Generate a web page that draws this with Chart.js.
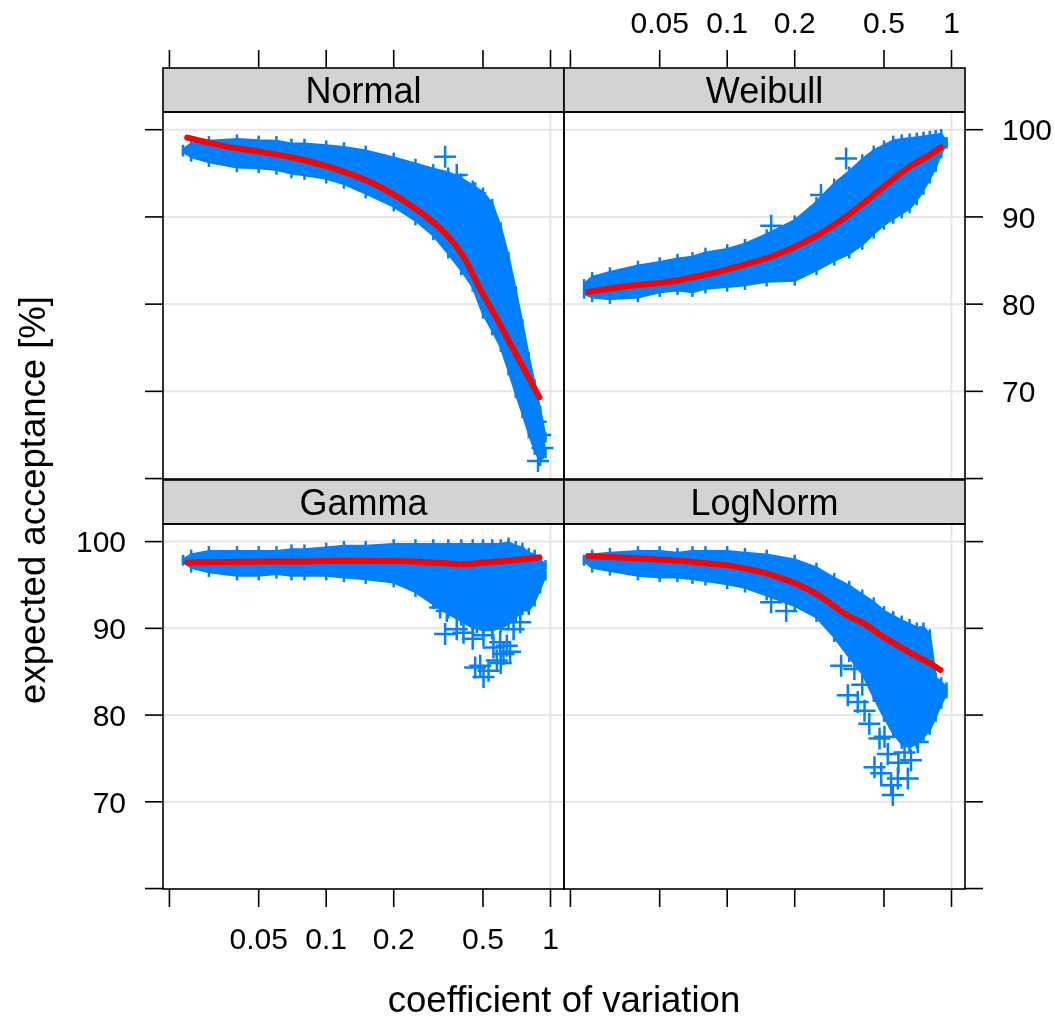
<!DOCTYPE html>
<html lang="en">
<head>
<meta charset="UTF-8">
<title>expected acceptance vs coefficient of variation</title>
<script src="https://cdn.jsdelivr.net/npm/chart.js"></script>
<style>
    body { margin: 0; background: #ffffff; }
    #wrap { position: relative; width: 1055px; height: 1018px; }
    #wrap canvas { position: absolute; left: 0; top: 0; }
</style>
</head>
<body>
<div id="wrap">
    <canvas id="pNormal" width="1055" height="1018"></canvas>
    <canvas id="pWeibull" width="1055" height="1018"></canvas>
    <canvas id="pGamma" width="1055" height="1018"></canvas>
    <canvas id="pLogNorm" width="1055" height="1018"></canvas>
</div>
<script>
// axis ticks
const xTicks = [0.02, 0.05, 0.1, 0.2, 0.5, 1];
const xTickLabels = ['', '0.05', '0.1', '0.2', '0.5', '1'];
const yTicks = [60, 70, 80, 90, 100];
const yTickLabels = ['', '70', '80', '90', '100'];
const xGrid = [1];
const yGrid = [70, 80, 90, 100];
const panelNames = ['Normal', 'Weibull', 'Gamma', 'LogNorm'];

// edge of the dense cloud of points (upper / lower), read at these cv values
const cvGrid = [0.023, 0.025, 0.03, 0.04, 0.05, 0.06, 0.07, 0.08, 0.1, 0.12, 0.15, 0.2, 0.25, 0.3,
                0.35, 0.4, 0.45, 0.5, 0.55, 0.6, 0.65, 0.7, 0.75, 0.8, 0.85, 0.9, 0.95];

const normalUpper = [97.7, 98.4, 98.7, 98.9, 98.75, 98.7, 98.4, 98.4, 98.2, 98.0, 97.6, 96.8, 96.1, 95.5,
                     95.1, 94.4, 93.6, 92.8, 91.5, 88.8, 85.4, 81.5, 77.7, 73.9, 70.8, 67.8, 64.7];
const normalLower = [97.5, 96.9, 96.3, 95.7, 95.6, 95.4, 95.0, 94.8, 94.4, 93.8, 92.7, 91.2, 89.6, 87.9,
                     85.8, 83.9, 82.0, 78.9, 77.0, 75.1, 72.4, 69.8, 67.5, 65.2, 63.3, 62.0, 62.9];

const weibullUpper = [82.3, 83.1, 83.65, 84.4, 84.8, 85.2, 85.4, 85.9, 86.3, 86.9, 88.0, 89.6, 91.7, 93.8,
                      95.2, 96.6, 97.6, 98.2, 98.75, 98.9, 99.0, 99.1, 99.2, 99.3, 99.4, 99.5, 98.6];
const weibullLower = [81.2, 80.8, 80.6, 80.8, 81.4, 81.6, 81.4, 81.8, 82.0, 82.2, 82.6, 82.7, 83.9, 85.0,
                      85.8, 86.8, 88.1, 89.1, 89.8, 90.4, 91.0, 91.9, 93.1, 94.4, 95.7, 97.3, 98.4];

const gammaUpper = [97.9, 98.5, 98.9, 98.9, 98.9, 98.9, 99.1, 99.1, 99.3, 99.5, 99.5, 99.7, 99.7, 99.7,
                    99.7, 99.7, 99.7, 99.7, 99.7, 99.7, 99.9, 99.5, 99.3, 98.7, 98.5, 97.9, 97.3];
const gammaLower = [97.8, 97.0, 96.5, 96.1, 96.1, 96.3, 96.1, 96.1, 96.1, 95.9, 95.7, 95.3, 94.2, 92.8,
                    91.7, 90.9, 90.1, 89.8, 89.8, 90.1, 90.5, 91.3, 92.1, 92.1, 93.1, 94.6, 96.1];

const lognormUpper = [97.9, 98.5, 98.7, 98.9, 98.9, 98.7, 98.9, 98.9, 98.9, 98.7, 98.5, 97.9, 97.0, 95.8,
                      94.9, 93.9, 93.0, 92.0, 91.4, 90.9, 90.5, 90.1, 90.1, 89.3, 84.3, 83.8, 83.2];
const lognormLower = [97.8, 97.0, 96.65, 96.1, 95.9, 95.9, 95.7, 95.5, 95.1, 94.7, 93.8, 92.6, 91.3, 89.0,
                      86.7, 84.8, 82.1, 79.8, 77.9, 76.7, 76.3, 76.7, 77.5, 78.3, 79.8, 81.3, 82.5];

// single "+" points standing out of the cloud
const normalOutCv = [0.339, 0.382, 0.4615, 0.86, 0.88, 0.90, 0.92];
const normalOutPct = [96.9, 94.8, 92.7, 66.5, 62.0, 65.0, 63.5];
const weibullOutCv = [0.157, 0.262, 0.339];
const weibullOutPct = [89.0, 92.5, 96.7];
const gammaOutCv = [0.322, 0.339, 0.345, 0.382, 0.4095, 0.4615, 0.4694, 0.4859, 0.5026, 0.5293,
                    0.5569, 0.5765, 0.5964, 0.6172, 0.6388, 0.6843, 0.7328, 0.5026, 0.45, 0.55,
                    0.60, 0.66];
const gammaOutPct = [92.4, 89.35, 92.0, 89.9, 89.5, 85.5, 90.7, 85.7, 89.2, 85.1,
                     87.8, 86.3, 88.4, 87.05, 88.0, 89.9, 90.7, 84.4, 88.8, 90.0,
                     86.0, 87.3];
const lognormOutCv = [0.157, 0.1832, 0.322, 0.345, 0.369, 0.382, 0.4095, 0.4536, 0.4776, 0.4859,
                      0.5026, 0.5382, 0.5475, 0.5765, 0.6172, 0.6388, 0.7079, 0.40, 0.43, 0.52,
                      0.58, 0.66];
const lognormOutPct = [93.0, 92.0, 85.7, 82.3, 85.3, 81.5, 80.5, 74.0, 77.3, 73.3,
                       77.5, 71.9, 70.8, 72.7, 75.7, 72.7, 76.9, 83.5, 79.0, 75.5,
                       74.5, 74.8];

// smoothed fit (red line)
const fitCv = [0.024, 0.037, 0.053, 0.074, 0.104, 0.163, 0.245, 0.346, 0.41, 0.484, 0.577, 0.683, 0.811, 0.893];
const normalFit = [99.1, 98.0, 97.4, 96.7, 95.7, 93.8, 91.1, 87.9, 85.4, 81.8, 78.3, 74.8, 71.3, 69.3];
const weibullFit = [81.4, 82.1, 82.5, 83.2, 84.1, 85.6, 87.7, 90.2, 91.7, 93.2, 94.8, 96.1, 97.2, 98.0];
const gammaFit = [97.6, 97.65, 97.7, 97.7, 97.75, 97.75, 97.7, 97.5, 97.4, 97.55, 97.7, 97.85, 98.05, 98.2];
const lognormFit = [98.35, 98.1, 97.9, 97.6, 97.2, 96.05, 94.1, 91.45, 90.5, 89.2, 88.0, 86.9, 85.9, 85.2];

const BLUE = '#0080ff';
const FONT = '"Liberation Sans", Arial, Helvetica, sans-serif';
Chart.defaults.font.family = FONT;

const pts = (xs, ys) => xs.map((x, i) => ({ x: x, y: ys[i] }));

// draws the lattice decorations: grid, frame, strip, ticks
const latticePlugin = {
    id: 'lattice',
    beforeDatasetsDraw(chart, args, opts) {
        const ctx = chart.ctx, a = chart.chartArea;
        const xs = chart.scales.x, ys = chart.scales.y;
        ctx.save();
        ctx.strokeStyle = '#e6e6e6';
        ctx.lineWidth = 2;
        yGrid.forEach(v => {
            const y = ys.getPixelForValue(v);
            ctx.beginPath(); ctx.moveTo(a.left, y); ctx.lineTo(a.right, y); ctx.stroke();
        });
        xGrid.forEach(v => {
            const x = xs.getPixelForValue(v);
            ctx.beginPath(); ctx.moveTo(x, a.top); ctx.lineTo(x, a.bottom); ctx.stroke();
        });
        ctx.restore();
    },
    afterDraw(chart, args, opts) {
        const ctx = chart.ctx, a = chart.chartArea;
        const xs = chart.scales.x, ys = chart.scales.y;
        const stripH = opts.stripH;
        const tick = 18;
        ctx.save();
        ctx.strokeStyle = '#000';
        ctx.lineWidth = 1.6;
        // strip
        ctx.fillStyle = '#d3d3d3';
        ctx.fillRect(a.left, a.top - stripH, a.right - a.left, stripH);
        ctx.strokeRect(a.left, a.top - stripH, a.right - a.left, stripH);
        ctx.fillStyle = '#000';
        ctx.font = '36px ' + FONT;
        ctx.textAlign = 'center';
        ctx.textBaseline = 'alphabetic';
        ctx.fillText(opts.title, (a.left + a.right) / 2, a.top - 9.5);
        // panel frame
        ctx.strokeRect(a.left, a.top, a.right - a.left, a.bottom - a.top);

        ctx.font = '30px ' + FONT;
        // x ticks
        const xBase = opts.xSide === 'top' ? a.top - stripH : a.bottom;
        const dir = opts.xSide === 'top' ? -1 : 1;
        xTicks.forEach((v, i) => {
            const x = xs.getPixelForValue(v);
            ctx.beginPath(); ctx.moveTo(x, xBase); ctx.lineTo(x, xBase + dir * tick); ctx.stroke();
            if (opts.xLabels) {
                ctx.textAlign = 'center';
                ctx.fillText(xTickLabels[i], x, opts.xSide === 'top' ? xBase - 35 : xBase + 60);
            }
        });
        // y ticks
        const yBase = opts.ySide === 'left' ? a.left : a.right;
        const ydir = opts.ySide === 'left' ? -1 : 1;
        yTicks.forEach((v, i) => {
            const y = ys.getPixelForValue(v);
            ctx.beginPath(); ctx.moveTo(yBase, y); ctx.lineTo(yBase + ydir * tick, y); ctx.stroke();
            if (opts.yLabels) {
                ctx.textAlign = opts.ySide === 'left' ? 'right' : 'left';
                ctx.fillText(yTickLabels[i], yBase + ydir * 37, y + 10.7);
            }
        });
        ctx.restore();
    }
};

// outer axis titles (drawn once, on the first panel's canvas)
const titlePlugin = {
    id: 'titles',
    afterDraw(chart) {
        const ctx = chart.ctx;
        ctx.save();
        ctx.fillStyle = '#000';
        ctx.font = '36.5px ' + FONT;
        ctx.textAlign = 'center';
        ctx.textBaseline = 'alphabetic';
        ctx.fillText('coefficient of variation', 564, 1012);
        ctx.translate(45, 500);
        ctx.rotate(-Math.PI / 2);
        ctx.fillText('expected acceptance [%]', 0, 0);
        ctx.restore();
    }
};

const panels = [
    { id: 'pNormal', name: panelNames[0], upper: normalUpper, lower: normalLower, fit: normalFit,
      outCv: normalOutCv, outPct: normalOutPct, pad: { left: 163, top: 112, right: 491, bottom: 539 },
      xSide: 'top', xLabels: false, ySide: 'left', yLabels: false },
    { id: 'pWeibull', name: panelNames[1], upper: weibullUpper, lower: weibullLower, fit: weibullFit,
      outCv: weibullOutCv, outPct: weibullOutPct, pad: { left: 564, top: 112, right: 90, bottom: 539 },
      xSide: 'top', xLabels: true, ySide: 'right', yLabels: true },
    { id: 'pGamma', name: panelNames[2], upper: gammaUpper, lower: gammaLower, fit: gammaFit,
      outCv: gammaOutCv, outPct: gammaOutPct, pad: { left: 163, top: 524, right: 491, bottom: 129 },
      xSide: 'bottom', xLabels: true, ySide: 'left', yLabels: true },
    { id: 'pLogNorm', name: panelNames[3], upper: lognormUpper, lower: lognormLower, fit: lognormFit,
      outCv: lognormOutCv, outPct: lognormOutPct, pad: { left: 564, top: 524, right: 90, bottom: 129 },
      xSide: 'bottom', xLabels: false, ySide: 'right', yLabels: false }
];

// vertical arms of the "+" marks that stick out of the cloud edge
const edgeStyle = { pointStyle: 'line', pointRotation: 90, pointRadius: 5, pointBorderWidth: 2.5, pointBorderColor: BLUE };

panels.forEach((p, k) => {
    new Chart(document.getElementById(p.id), {
        type: 'line',
        data: {
            datasets: [
                { data: pts(fitCv, p.fit), borderColor: '#ff0000', borderWidth: 6, pointRadius: 0,
                  borderCapStyle: 'round', borderJoinStyle: 'round', cubicInterpolationMode: 'monotone',
                  fill: false, order: 0 },
                { data: pts(p.outCv, p.outPct), showLine: false, fill: false, order: 1,
                  pointStyle: 'cross', pointRadius: 11, pointBorderWidth: 2.5, pointBorderColor: BLUE },
                Object.assign({ data: pts(cvGrid, p.upper), borderColor: BLUE, backgroundColor: BLUE,
                  borderWidth: 2.5, fill: '+1', order: 2 }, edgeStyle),
                Object.assign({ data: pts(cvGrid, p.lower), borderColor: BLUE, borderWidth: 2.5,
                  fill: false, order: 3 }, edgeStyle)
            ]
        },
        options: {
            responsive: false,
            animation: false,
            devicePixelRatio: 1,
            layout: { padding: p.pad },
            scales: {
                x: { type: 'logarithmic', min: Math.pow(10, -1.7276), max: Math.pow(10, 0.0602), display: false },
                y: { type: 'linear', min: 59.95, max: 102.03, display: false }
            },
            plugins: {
                legend: { display: false },
                tooltip: { enabled: false },
                lattice: { title: p.name, stripH: 44, xSide: p.xSide, xLabels: p.xLabels,
                           ySide: p.ySide, yLabels: p.yLabels }
            }
        },
        plugins: k === 0 ? [latticePlugin, titlePlugin] : [latticePlugin]
    });
});
</script>
</body>
</html>
